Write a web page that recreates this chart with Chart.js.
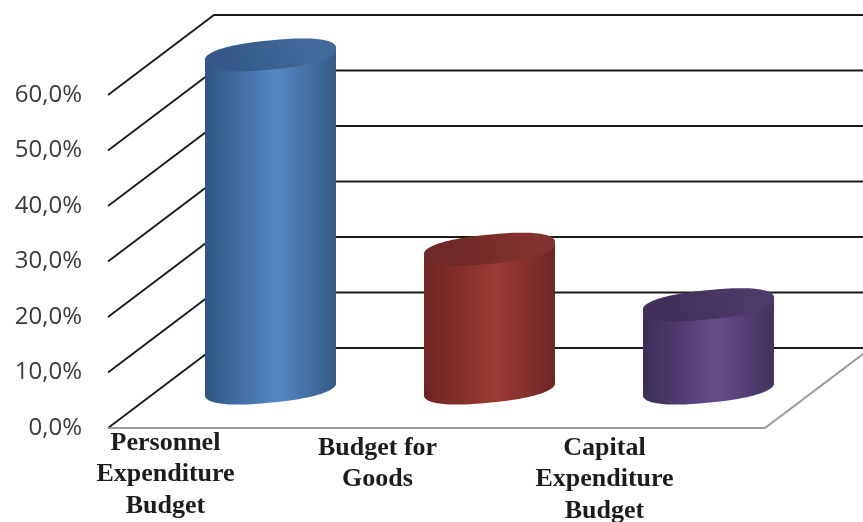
<!DOCTYPE html>
<html>
<head>
<meta charset="utf-8">
<style>
  html, body { margin: 0; padding: 0; background: #fff; }
  canvas { display: block; filter: blur(0.35px); }
</style>
<script src="https://cdn.jsdelivr.net/npm/chart.js@4"></script>
</head>
<body>
<canvas id="budgetChart" width="863" height="522"></canvas>
<script>
'use strict';
const categories = [
  ['Personnel', 'Expenditure', 'Budget'],
  ['Budget for', 'Goods'],
  ['Capital', 'Expenditure', 'Budget'],
];
const shares = [60, 25, 15];
const yTicks = [0, 10, 20, 30, 40, 50, 60];

// left edge, middle, right edge of each cylinder, then its lid
const bodyEdge = ['#2f5483', '#6d2422', '#3a2c55'];
const bodyMid  = ['#5589c6', '#9c3a36', '#664c8c'];
const bodyEnd  = ['#345a86', '#6f2725', '#43335f'];
const lidDark  = ['#355a89', '#6f2927', '#413059'];
const lidLight = ['#41699c', '#83322f', '#4c3a69'];

// the labels do not sit under the bars in the original
const labelShiftX = [-52, -59, -51];
const labelShiftY = [15, 20, 20];

const DEPTH_X = 106, DEPTH_Y = 80;
const TILT = -0.1, LID_RY = 14.6, ROUNDNESS = 2.4;

// slightly squared ellipse, the original lids are fuller than a true ellipse
function lidPath(ctx, cx, cy, rx, ry) {
  const s = Math.sin(TILT), c = Math.cos(TILT);
  const pow = v => Math.sign(v) * Math.pow(Math.abs(v), 2 / ROUNDNESS);
  ctx.beginPath();
  for (let k = 0; k < 120; k++) {
    const t = k / 120 * Math.PI * 2;
    const u = rx * pow(Math.cos(t)), v = ry * pow(Math.sin(t));
    ctx.lineTo(cx + u * c - v * s, cy + u * s + v * c);
  }
  ctx.closePath();
}

function drawCylinder(ctx, el, i) {
  const cx = el.x + DEPTH_X / 2;
  const top = el.y - DEPTH_Y / 2;
  const bottom = el.base - DEPTH_Y / 2;
  const half = el.width / 2;
  const rx = half * 1.01;
  const shoulder = half * 0.085;

  ctx.save();
  ctx.beginPath();
  ctx.rect(cx - half, 0, half * 2, chartHeight);
  ctx.clip();

  const grad = ctx.createLinearGradient(cx - half, 0, cx + half, 0);
  grad.addColorStop(0, bodyEdge[i]);
  grad.addColorStop(0.55, bodyMid[i]);
  grad.addColorStop(1, bodyEnd[i]);

  ctx.fillStyle = grad;
  ctx.beginPath();
  ctx.moveTo(cx - half, top + shoulder);
  ctx.lineTo(cx + half, top - shoulder);
  ctx.lineTo(cx + half, bottom - shoulder);
  ctx.lineTo(cx - half, bottom + shoulder);
  ctx.closePath();
  ctx.fill();
  lidPath(ctx, cx, bottom, rx, LID_RY);
  ctx.fill();

  const lid = ctx.createLinearGradient(cx - half / 2, top + LID_RY, cx + half / 2, top - LID_RY);
  lid.addColorStop(0, lidDark[i]);
  lid.addColorStop(1, lidLight[i]);
  ctx.fillStyle = lid;
  lidPath(ctx, cx, top, rx, LID_RY);
  ctx.fill();
  ctx.restore();
}

const chartHeight = 522;

const cylinderPlugin = {
  id: 'cylinders',
  beforeDatasetsDraw(chart) {
    const ctx = chart.ctx;
    const area = chart.chartArea;
    const yScale = chart.scales.y;
    ctx.save();
    yTicks.forEach(v => {
      const y = yScale.getPixelForValue(v);
      ctx.strokeStyle = '#1a1a1a';
      ctx.lineWidth = 1.8;
      ctx.beginPath();
      ctx.moveTo(area.left, y);
      ctx.lineTo(area.left + DEPTH_X, y - DEPTH_Y);
      ctx.lineTo(area.right + DEPTH_X, y - DEPTH_Y);
      ctx.stroke();
    });
    const floorY = yScale.getPixelForValue(0);
    ctx.strokeStyle = '#9a9a9a';
    ctx.lineWidth = 2;
    ctx.beginPath();
    ctx.moveTo(area.left, floorY);
    ctx.lineTo(area.right, floorY);
    ctx.lineTo(area.right + DEPTH_X, floorY - DEPTH_Y);
    ctx.stroke();
    ctx.restore();
  },
  afterDatasetsDraw(chart) {
    const ctx = chart.ctx;
    const xScale = chart.scales.x;
    const floorY = chart.scales.y.getPixelForValue(0);
    ctx.save();
    chart.getDatasetMeta(0).data.forEach((el, i) => drawCylinder(ctx, el, i));
    ctx.fillStyle = '#1c1c1c';
    ctx.font = 'bold 26px "Liberation Serif"';
    ctx.textAlign = 'center';
    ctx.textBaseline = 'middle';
    categories.forEach((lines, i) => {
      const x = xScale.getPixelForValue(i) + labelShiftX[i];
      lines.forEach((line, k) => {
        ctx.fillText(line, x, floorY + labelShiftY[i] + k * 31.5);
      });
    });
    ctx.restore();
  },
};

new Chart(document.getElementById('budgetChart'), {
  type: 'bar',
  data: {
    labels: categories.map(l => l.join(' ')),
    datasets: [{
      data: shares,
      backgroundColor: 'rgba(0,0,0,0)',
      barPercentage: 1,
      categoryPercentage: 0.598,
    }],
  },
  options: {
    responsive: false,
    animation: false,
    layout: { padding: { top: 95, right: 98, bottom: 94, left: 0 } },
    plugins: { legend: { display: false }, tooltip: { enabled: false } },
    scales: {
      x: { display: false },
      y: {
        min: 0, max: 60,
        afterFit(scale) { scale.width = 108; },
        grid: { display: false, drawTicks: false },
        border: { display: false },
        ticks: {
          stepSize: 10,
          padding: 26,
          color: '#3a3a3a',
          font: { family: 'Open Sans', size: 24 },
          callback: v => v.toFixed(1).replace('.', ',') + '%',
        },
      },
    },
  },
  plugins: [cylinderPlugin],
});
</script>
</body>
</html>
